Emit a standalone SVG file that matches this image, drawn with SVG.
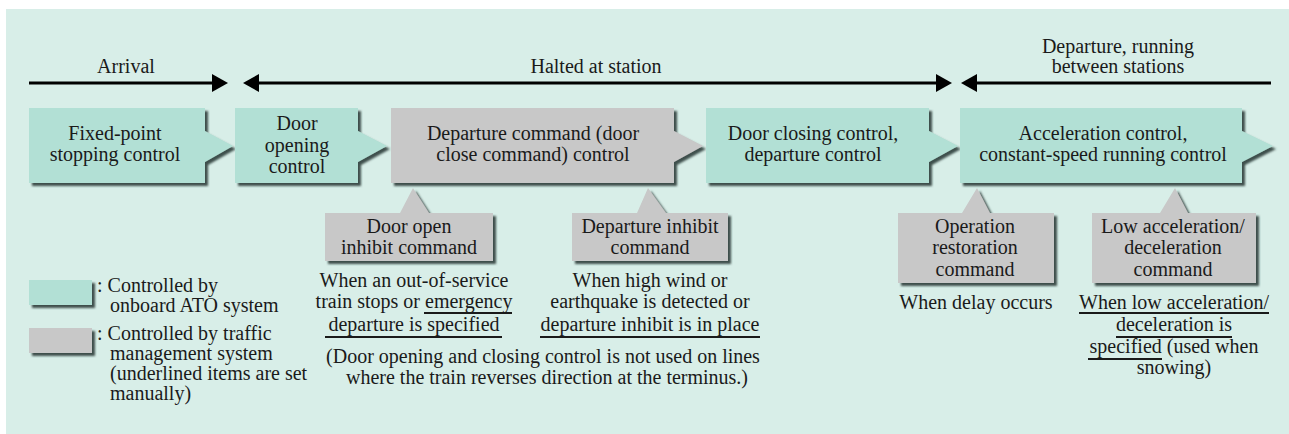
<svg xmlns="http://www.w3.org/2000/svg" width="1289" height="434" viewBox="0 0 1289 434">
<style>
text{font-family:"Liberation Serif","Times New Roman",serif;font-size:20px;fill:#1a1a1a;}
.c{text-anchor:middle;}
.teal{fill:#b2e0d5;filter:url(#sh);}
.gray{fill:#c8c8c8;filter:url(#sh);}
.ph{stroke:#000;stroke-width:3;fill:none;}
.ul{stroke:#1a1a1a;stroke-width:1.8;}
</style>
<defs>
<filter id="sh" x="-5%" y="-10%" width="115%" height="130%">
<feDropShadow dx="3" dy="3" stdDeviation="0.8" flood-color="#2f3d3a" flood-opacity="0.9"/>
</filter>
<marker id="ah" markerUnits="userSpaceOnUse" markerWidth="16" markerHeight="18" refX="0" refY="9" orient="auto-start-reverse" overflow="visible">
<path d="M0,0 L16,9 L0,18 Z" fill="#000"/>
</marker>
</defs>
<rect x="6" y="9" width="1283" height="425" fill="#d8eee8"/>

<g id="connectors">
<line class="ph" x1="29" y1="83" x2="212" y2="83" marker-end="url(#ah)"/>
<line class="ph" x1="259" y1="83" x2="936" y2="83" marker-start="url(#ah)" marker-end="url(#ah)"/>
<line class="ph" x1="977" y1="83" x2="1271" y2="83" marker-start="url(#ah)"/>
</g>

<g id="phase-labels">
<text class="c" x="126" y="73">Arrival</text>
<text class="c" x="596" y="73">Halted at station</text>
<text class="c" x="1118" y="53">Departure, running</text>
<text class="c" x="1118" y="73">between stations</text>
</g>

<g id="fixed-point">
<path class="teal" d="M29,108 H205 V131 L233,146 L205,162 V183 H29 Z"/>
<text class="c" x="115" y="140">Fixed-point</text>
<text class="c" x="115" y="161">stopping control</text>
</g>

<g id="door-opening">
<path class="teal" d="M235,108 H358 V131 L387,146 L358,162 V183 H235 Z"/>
<text class="c" x="297" y="130">Door</text>
<text class="c" x="297" y="152">opening</text>
<text class="c" x="297" y="173">control</text>
</g>

<g id="departure-command">
<path class="gray" d="M391,108 H674 V131 L703,146 L674,162 V183 H391 Z"/>
<text class="c" x="533" y="140">Departure command (door</text>
<text class="c" x="533" y="161">close command) control</text>
</g>

<g id="door-closing">
<path class="teal" d="M706,108 H929 V131 L958,146 L929,162 V183 H706 Z"/>
<text class="c" x="813" y="140">Door closing control,</text>
<text class="c" x="813" y="161">departure control</text>
</g>

<g id="acceleration">
<path class="teal" d="M960,108 H1242 V131 L1273,146 L1242,162 V183 H960 Z"/>
<text class="c" x="1103" y="140">Acceleration control,</text>
<text class="c" x="1103" y="161">constant-speed running control</text>
</g>

<g id="door-open-inhibit">
<path class="gray" d="M325,213 H400 L413,188 L429,213 H493 V261 H325 Z"/>
<text class="c" x="409" y="233">Door open</text>
<text class="c" x="409" y="254">inhibit command</text>
<text class="c" x="414" y="287">When an out-of-service</text>
<text class="c" x="414" y="308">train stops or emergency</text>
<text class="c" x="414" y="331">departure is specified</text>
<line class="ul" x1="424" y1="313" x2="512" y2="313"/>
<line class="ul" x1="325" y1="337" x2="502" y2="337"/>
</g>

<g id="departure-inhibit">
<path class="gray" d="M572,213 H637 L648,188 L666,213 H728 V261 H572 Z"/>
<text class="c" x="650" y="233">Departure inhibit</text>
<text class="c" x="650" y="254">command</text>
<text class="c" x="650" y="287">When high wind or</text>
<text class="c" x="650" y="308">earthquake is detected or</text>
<text class="c" x="650" y="331">departure inhibit is in place</text>
<line class="ul" x1="540" y1="337" x2="760" y2="337"/>
</g>

<g id="note">
<text class="c" x="543" y="363">(Door opening and closing control is not used on lines</text>
<text class="c" x="547" y="384">where the train reverses direction at the terminus.)</text>
</g>

<g id="operation-restoration">
<path class="gray" d="M898,213 H962 L977,188 L990,213 H1054 V283 H898 Z"/>
<text class="c" x="975" y="233">Operation</text>
<text class="c" x="975" y="254">restoration</text>
<text class="c" x="975" y="276">command</text>
<text class="c" x="976" y="309">When delay occurs</text>
</g>

<g id="low-acceleration">
<path class="gray" d="M1092,213 H1160 L1175,188 L1188,213 H1256 V283 H1092 Z"/>
<text class="c" x="1173" y="233">Low acceleration/</text>
<text class="c" x="1173" y="254">deceleration</text>
<text class="c" x="1173" y="276">command</text>
<text class="c" x="1174" y="309">When low acceleration/</text>
<text class="c" x="1174" y="331">deceleration is</text>
<text class="c" x="1174" y="353">specified (used when</text>
<text class="c" x="1174" y="374">snowing)</text>
<line class="ul" x1="1079" y1="313" x2="1269" y2="313"/>
<line class="ul" x1="1116" y1="337" x2="1232" y2="337"/>
<line class="ul" x1="1088" y1="359" x2="1162" y2="359"/>
</g>

<g id="legend">
<rect class="teal" x="29" y="280" width="63" height="25"/>
<rect class="gray" x="29" y="328" width="63" height="25"/>
<text x="97" y="292">: Controlled by</text>
<text x="110" y="312">onboard ATO system</text>
<text x="97" y="340">: Controlled by traffic</text>
<text x="110" y="360">management system</text>
<text x="110" y="380">(underlined items are set</text>
<text x="110" y="400">manually)</text>
</g>
</svg>
